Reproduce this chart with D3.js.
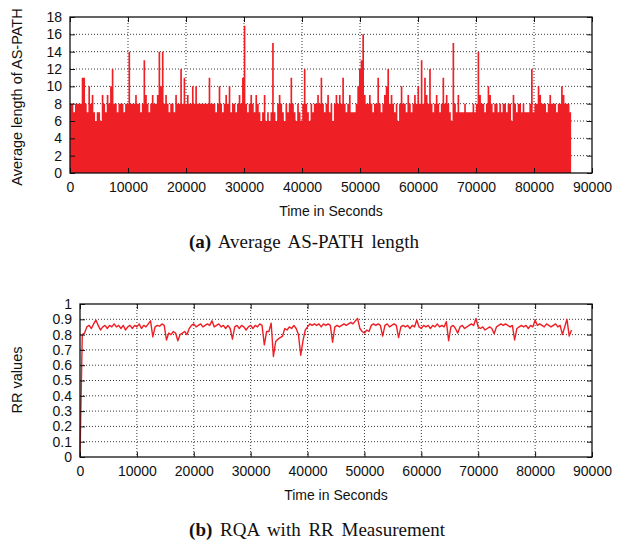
<!DOCTYPE html>
<html>
<head>
<meta charset="utf-8">
<script src="https://cdn.jsdelivr.net/npm/d3@7"></script>
<style>
  body { margin: 0; background: #fff; }
  svg text { font-family: "Liberation Sans", Arial, sans-serif; fill: #111; }
  svg text.caption { font-family: "Liberation Serif", "Times New Roman", serif; }
</style>
</head>
<body>
<svg id="chart" width="627" height="541"></svg>
<script>
// ---- data ----
const barStep = 288;   // seconds covered by one bar
const asPathLength = [
  8, 8, 7, 8, 8, 8, 8, 11, 11, 8,  7, 10, 8, 9, 7, 6, 7, 7, 6, 9,
  8, 7, 9, 8, 10, 12, 8, 8, 7, 8,  8, 8, 7, 8, 8, 14, 8, 8, 8, 9,
  8, 8, 7, 8, 13, 9, 8, 7, 8, 9,  8, 8, 9, 14, 10, 14, 8, 9, 8, 7,
  8, 8, 7, 9, 8, 8, 12, 8, 11, 8,  9, 8, 8, 10, 8, 10, 8, 8, 8, 8,
  8, 8, 8, 11, 8, 8, 8, 7, 8, 10,  8, 7, 8, 9, 8, 10, 7, 8, 8, 7,
  8, 9, 8, 11, 17, 8, 7, 8, 9, 8,  7, 9, 8, 7, 6, 7, 9, 6, 7, 6,
  7, 15, 7, 6, 8, 9, 8, 7, 6, 8,  7, 8, 11, 8, 7, 6, 8, 7, 6, 8,
  12, 8, 7, 6, 8, 7, 8, 8, 9, 8,  11, 8, 7, 8, 9, 7, 8, 6, 8, 9,
  8, 9, 8, 11, 8, 7, 8, 9, 7, 7,  7, 8, 10, 12, 13, 16, 9, 8, 8, 9,
  8, 7, 8, 8, 11, 8, 7, 8, 9, 10,  12, 8, 9, 8, 7, 8, 6, 8, 10, 8,
  8, 7, 9, 8, 7, 8, 9, 8, 10, 8,  13, 8, 11, 9, 8, 12, 8, 7, 8, 9,
  8, 7, 8, 11, 8, 9, 8, 7, 6, 15,  8, 7, 9, 7, 7, 7, 8, 7, 7, 7,
  7, 8, 7, 8, 14, 9, 8, 8, 7, 8,  10, 9, 8, 7, 8, 8, 7, 8, 7, 8,
  8, 7, 8, 8, 6, 9, 8, 7, 8, 8,  7, 8, 7, 7, 7, 8, 12, 7, 8, 8,
  10, 9, 8, 8, 8, 7, 8, 9, 8, 8,  8, 7, 8, 8, 10, 9, 8, 8, 8, 7
];

const rrStep = 400;    // seconds between RR samples
const rrValues = [
  0, 0.80, 0.81, 0.85, 0.86, 0.84, 0.87, 0.895, 0.86, 0.83,
  0.85, 0.86, 0.84, 0.86, 0.85, 0.87, 0.85, 0.86, 0.84, 0.86,
  0.83, 0.85, 0.86, 0.84, 0.86, 0.85, 0.87, 0.84, 0.86, 0.85,
  0.87, 0.89, 0.785, 0.85, 0.86, 0.855, 0.87, 0.86, 0.765, 0.81,
  0.80, 0.82, 0.81, 0.76, 0.80, 0.81, 0.82, 0.80, 0.84, 0.86,
  0.87, 0.85, 0.86, 0.87, 0.85, 0.86, 0.87, 0.86, 0.89, 0.85,
  0.86, 0.87, 0.85, 0.86, 0.84, 0.86, 0.84, 0.77, 0.85, 0.86,
  0.84, 0.86, 0.85, 0.83, 0.85, 0.86, 0.84, 0.86, 0.85, 0.87,
  0.86, 0.733, 0.82, 0.82, 0.875, 0.657, 0.755, 0.77, 0.78, 0.79,
  0.84, 0.83, 0.85, 0.84, 0.86, 0.84, 0.80, 0.665, 0.76, 0.83,
  0.85, 0.87, 0.86, 0.87, 0.86, 0.87, 0.85, 0.87, 0.86, 0.87,
  0.86, 0.75, 0.85, 0.86, 0.85, 0.86, 0.87, 0.86, 0.87, 0.88,
  0.87, 0.89, 0.905, 0.84, 0.82, 0.81, 0.83, 0.82, 0.86, 0.87,
  0.86, 0.87, 0.86, 0.79, 0.86, 0.87, 0.85, 0.86, 0.87, 0.86,
  0.78, 0.85, 0.86, 0.85, 0.86, 0.84, 0.86, 0.85, 0.896, 0.85,
  0.84, 0.86, 0.85, 0.86, 0.84, 0.86, 0.85, 0.87, 0.85, 0.86,
  0.85, 0.885, 0.76, 0.85, 0.86, 0.84, 0.81, 0.85, 0.86, 0.84,
  0.85, 0.86, 0.87, 0.86, 0.905, 0.85, 0.84, 0.85, 0.83, 0.84,
  0.85, 0.84, 0.805, 0.85, 0.86, 0.87, 0.86, 0.87, 0.86, 0.85,
  0.86, 0.765, 0.84, 0.85, 0.86, 0.85, 0.86, 0.84, 0.86, 0.85,
  0.895, 0.86, 0.87, 0.86, 0.85, 0.87, 0.86, 0.85, 0.86, 0.87,
  0.85, 0.86, 0.80, 0.85, 0.90, 0.79, 0.83
];

const timeTicks = [0, 10000, 20000, 30000, 40000, 50000, 60000, 70000, 80000, 90000];
const pathTicks = [0, 2, 4, 6, 8, 10, 12, 14, 16, 18];
const rrTicks = [0, 0.1, 0.2, 0.3, 0.4, 0.5, 0.6, 0.7, 0.8, 0.9, 1];

const red = "#ee1f25";
const fs = "14px";
const svg = d3.select("#chart");

// dotted grid behind the data
function drawGrid(g, x, y, box, yTicks) {
  const grid = g.append("g").attr("stroke", "#222").attr("stroke-width", 0.9)
    .attr("stroke-dasharray", "1,2");
  grid.selectAll(".gx").data(timeTicks.slice(1, -1)).join("line")
    .attr("x1", d => x(d)).attr("x2", d => x(d))
    .attr("y1", box.top).attr("y2", box.bottom);
  grid.selectAll(".gy").data(yTicks.slice(1, -1)).join("line")
    .attr("x1", box.left).attr("x2", box.right)
    .attr("y1", d => y(d)).attr("y2", d => y(d));
}

// border, inward ticks on all four sides (gnuplot style), titles and caption
function drawAxes(g, x, y, box, yTicks, yFmt, labels) {
  const bottom = g.append("g").attr("transform", `translate(0,${box.bottom})`)
    .call(d3.axisBottom(x).tickValues(timeTicks).tickSize(-5).tickPadding(9)
      .tickFormat(d3.format("d")));
  const top = g.append("g").attr("transform", `translate(0,${box.top})`)
    .call(d3.axisTop(x).tickValues(timeTicks).tickSize(-5).tickFormat(""));
  const left = g.append("g").attr("transform", `translate(${box.left},0)`)
    .call(d3.axisLeft(y).tickValues(yTicks).tickSize(-5).tickPadding(8).tickFormat(yFmt));
  const right = g.append("g").attr("transform", `translate(${box.right},0)`)
    .call(d3.axisRight(y).tickValues(yTicks).tickSize(-5).tickFormat(""));
  [bottom, top, left, right].forEach(a => {
    a.select(".domain").remove();
    a.selectAll(".tick line").attr("stroke", "#111").attr("stroke-width", 1);
    a.selectAll("text").attr("font-size", fs)
      .attr("font-family", "Liberation Sans, Arial, sans-serif").attr("fill", "#111");
  });
  g.append("rect")
    .attr("x", box.left).attr("y", box.top)
    .attr("width", box.right - box.left).attr("height", box.bottom - box.top)
    .attr("fill", "none").attr("stroke", "#111").attr("stroke-width", 1.3);

  g.append("text").attr("x", (box.left + box.right) / 2).attr("y", labels.xTitleY)
    .attr("text-anchor", "middle").attr("font-size", fs).text("Time in Seconds");
  g.append("text")
    .attr("transform", `translate(${labels.yTitleX},${labels.yTitleMid}) rotate(-90)`)
    .attr("text-anchor", "middle").attr("font-size", "14.5px").text(labels.yTitle);

  const cap = g.append("text").attr("class", "caption")
    .attr("x", labels.capX).attr("y", labels.capY)
    .attr("text-anchor", "middle").attr("font-size", "19px")
    .attr("word-spacing", "3px").attr("fill", "#222");
  cap.append("tspan").attr("font-weight", "bold").text(labels.capTag);
  cap.append("tspan").text(" " + labels.capText);
}

// ---- (a) Average AS-PATH length ----
const boxA = { left: 70, right: 592, top: 17, bottom: 173 };
const xA = d3.scaleLinear().domain([0, 90000]).range([boxA.left, boxA.right]);
const yA = d3.scaleLinear().domain([0, 18]).range([boxA.bottom, boxA.top]);
const gA = svg.append("g");
drawGrid(gA, xA, yA, boxA, pathTicks);

// impulses drawn as one stepped area so neighbouring bars leave no seams
const bars = asPathLength.map((v, i) => ({ t: i * barStep, v }));
bars.push({ t: asPathLength.length * barStep, v: asPathLength[asPathLength.length - 1] });
const barArea = d3.area()
  .curve(d3.curveStepAfter)
  .x(d => xA(d.t))
  .y0(yA(0))
  .y1(d => yA(d.v));
gA.append("path").datum(bars)
  .attr("d", barArea)
  .attr("fill", red);

drawAxes(gA, xA, yA, boxA, pathTicks, d3.format("d"), {
  xTitleY: 216, yTitleX: 22, yTitleMid: 97, yTitle: "Average length of AS-PATH",
  capX: 304, capY: 248, capTag: "(a)", capText: "Average AS-PATH length"
});

// ---- (b) RQA with RR Measurement ----
const boxB = { left: 80, right: 592, top: 304, bottom: 457 };
const xB = d3.scaleLinear().domain([0, 90000]).range([boxB.left, boxB.right]);
const yB = d3.scaleLinear().domain([0, 1]).range([boxB.bottom, boxB.top]);
const gB = svg.append("g");
drawGrid(gB, xB, yB, boxB, rrTicks);

const rrLine = d3.line()
  .x((d, i) => xB(i * rrStep))
  .y(d => yB(d));
gB.append("path").datum(rrValues)
  .attr("d", rrLine)
  .attr("fill", "none")
  .attr("stroke", red)
  .attr("stroke-width", 1.4)
  .attr("stroke-linejoin", "round");

drawAxes(gB, xB, yB, boxB, rrTicks, d3.format("~g"), {
  xTitleY: 500, yTitleX: 22, yTitleMid: 380, yTitle: "RR values",
  capX: 317, capY: 536, capTag: "(b)", capText: "RQA with RR Measurement"
});
</script>
</body>
</html>
